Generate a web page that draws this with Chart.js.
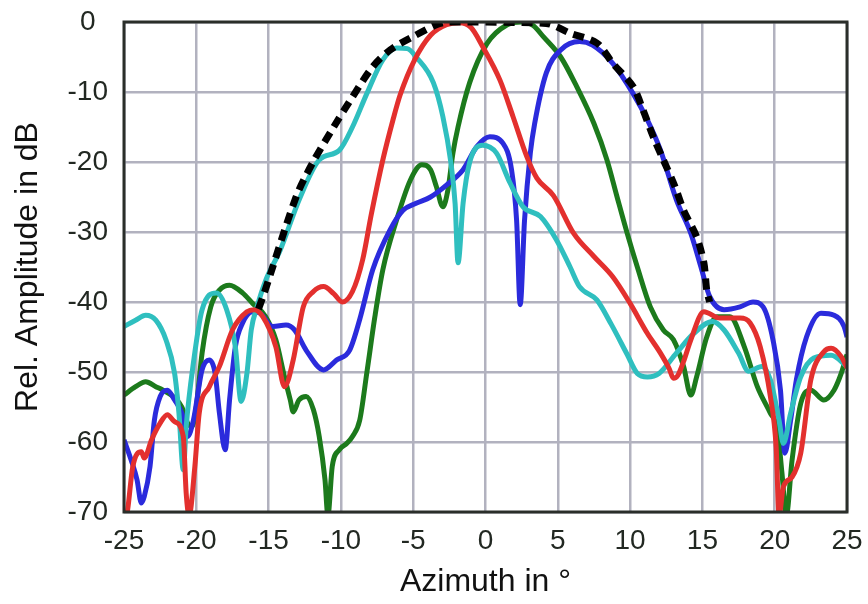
<!DOCTYPE html>
<html>
<head>
<meta charset="utf-8">
<script src="https://cdn.jsdelivr.net/npm/chart.js@4/dist/chart.umd.min.js"></script>
<style>
  html, body { margin: 0; padding: 0; background: #ffffff; }
  #wrap { width: 868px; height: 604px; }
</style>
</head>
<body>
<div id="wrap"><canvas id="c" width="868" height="604"></canvas></div>
<script>
// ---- data (azimuth in degrees, relative amplitude in dB) ----
const xTicks = [-25, -20, -15, -10, -5, 0, 5, 10, 15, 20, 25];
const yTicks = [-70, -60, -50, -40, -30, -20, -10, 0];

const envelope = [[-15.7,-41],[-15.3,-38.7],[-13.1,-25],[-11.95,-20.1],[-10.5,-15],[-9.2,-10.7],[-7.8,-6.4],[-6.6,-4.0],[-5.2,-2.3],[-3.4,-0.4],[-2.5,0],[4.2,-0.2],[5.85,-1.6],[7.7,-3.0],[8.8,-5.9],[10.2,-9.2],[10.9,-12.6],[11.6,-16.4],[12.3,-19.7],[13.1,-23.5],[13.7,-26.9],[14.6,-30.7],[15.1,-34.4],[15.3,-38.3],[15.5,-40]];

const red = [[-25,-72],[-24.75,-69.7],[-24.4,-63.6],[-23.8,-61.4],[-23.6,-62.3],[-23.1,-59.7],[-22.5,-57.3],[-22.0,-56.1],[-21.5,-57.1],[-20.9,-59.2],[-20.7,-67.3],[-20.5,-70.5],[-20.1,-63.5],[-19.8,-55.9],[-19.1,-52.1],[-18.4,-49.2],[-17.5,-44],[-16.5,-41.4],[-16.0,-41.1],[-15.4,-42.1],[-14.5,-46.4],[-13.9,-52.1],[-13.3,-48.3],[-12.6,-40.7],[-11.9,-38.5],[-11.2,-37.8],[-10.5,-38.8],[-9.9,-40],[-9.2,-38.5],[-8.5,-34],[-7.9,-27.5],[-7.1,-19.7],[-6.4,-14],[-5.9,-10.4],[-4.9,-5.4],[-3.8,-1.9],[-2.7,-0.4],[-1.8,-0.1],[-1.0,-0.8],[-0.2,-3.5],[1.0,-8.3],[1.9,-13.5],[2.85,-19.2],[3.55,-22.3],[4.7,-24.8],[6.1,-30.2],[7.5,-33.5],[8.8,-36.4],[10.0,-40.2],[11.2,-44.5],[12.1,-47.3],[12.7,-49.5],[13.0,-50.9],[13.3,-50.5],[13.7,-48.5],[14.2,-45.4],[15.1,-41.4],[16.2,-42.3],[17.6,-42.3],[18.3,-43.0],[19.0,-46.4],[19.7,-53.5],[20.1,-60.7],[20.3,-70.5],[20.6,-66.4],[21.2,-65],[21.8,-61.6],[22.5,-51.1],[23.4,-47.1],[23.9,-46.6],[24.6,-47.8],[25,-49.4]];

const blue = [[-25,-59.7],[-24.5,-62.6],[-24.1,-65.4],[-23.8,-68.7],[-23.6,-67.8],[-23.2,-63.5],[-22.9,-56.9],[-22.5,-53.5],[-22.0,-52.6],[-21.5,-54],[-21.0,-55.9],[-20.6,-59.2],[-20.2,-56.9],[-19.6,-49.7],[-19.1,-48.3],[-18.7,-50.2],[-18.4,-55.9],[-18.0,-61.1],[-17.7,-54],[-17.3,-46.4],[-16.8,-43.0],[-16.1,-41.4],[-15.6,-41.6],[-14.7,-43.5],[-13.8,-43.3],[-13.2,-44.0],[-12.4,-46.9],[-11.2,-49.7],[-10.3,-48.3],[-9.4,-46.9],[-8.7,-42.5],[-7.8,-35.4],[-6.6,-29.7],[-5.7,-26.9],[-4.8,-25.9],[-3.8,-25],[-2.7,-23.3],[-1.55,-21.1],[-0.6,-17.8],[0.3,-16.4],[1.2,-17.3],[1.8,-21.1],[2.15,-28.3],[2.4,-40.4],[2.7,-28.3],[3.1,-18.7],[3.4,-14.5],[4.2,-7.3],[5.2,-4.0],[6.5,-2.8],[7.4,-3.3],[8.8,-5.9],[10.2,-10.2],[11.2,-14],[12.1,-18.3],[13.2,-25.4],[14.2,-30.2],[14.9,-35],[15.5,-39.2],[16.5,-41.1],[17.6,-40.7],[18.5,-40],[19.2,-40.7],[19.9,-45.6],[20.4,-52.6],[20.7,-61.6],[21.1,-56.9],[21.5,-51.1],[22.2,-45],[23.2,-41.6],[24.1,-41.9],[24.8,-43.5],[25,-45]];

const green = [[-25,-53.3],[-24.2,-52.1],[-23.5,-51.4],[-22.8,-52.1],[-22.3,-52.6],[-21.6,-53.5],[-21.0,-55],[-20.6,-57.3],[-20.3,-57.8],[-20.0,-55],[-19.6,-47.3],[-19.0,-40.7],[-18.4,-38.3],[-17.7,-37.6],[-16.8,-38.7],[-16.1,-40.2],[-15.2,-42.1],[-14.5,-45.4],[-13.9,-50.7],[-13.5,-54],[-13.3,-55.7],[-12.9,-54],[-12.4,-53.5],[-11.9,-55.4],[-11.5,-59.2],[-11.1,-65.4],[-10.9,-70.5],[-10.6,-63.5],[-10.1,-61.1],[-9.6,-60.2],[-9.2,-59.2],[-8.7,-56.9],[-8.2,-50],[-7.65,-42.1],[-7.1,-35.4],[-6.15,-28.3],[-5.2,-22.6],[-4.4,-20.4],[-3.8,-21.1],[-3.4,-23.5],[-2.95,-26.4],[-2.6,-24],[-2.25,-18.7],[-1.9,-15],[-1.1,-8.7],[0.1,-3.1],[1.5,-0.4],[2.5,0],[3.3,-0.5],[4.0,-2.1],[5.2,-5.0],[6.3,-9.2],[7.5,-14.5],[8.4,-19.7],[9.1,-25],[9.8,-30.2],[10.5,-35],[11.4,-40.7],[12.3,-44],[13.0,-45.4],[13.7,-49.2],[14.2,-53.3],[14.6,-50.7],[15.3,-45],[16.0,-42.1],[16.9,-42.1],[17.9,-46.4],[18.8,-52.1],[19.7,-55.9],[20.2,-58.3],[20.5,-64.4],[20.8,-70.5],[21.2,-62.6],[21.8,-54.5],[22.5,-52.6],[23.4,-54],[24.1,-52.6],[24.6,-50.2],[25,-47.5]];

const cyan = [[-25,-43.5],[-24.2,-42.6],[-23.5,-41.9],[-22.8,-42.6],[-22.1,-45.4],[-21.5,-50.2],[-21.2,-55.9],[-20.9,-64.0],[-20.7,-57.8],[-20.2,-48.7],[-19.6,-41.1],[-18.6,-38.7],[-17.9,-41.1],[-17.3,-46.4],[-16.9,-54.2],[-16.5,-50.2],[-16.2,-44],[-15.8,-40.7],[-15.2,-36.9],[-14.2,-32.6],[-12.85,-25.2],[-11.5,-19.7],[-10.1,-18.3],[-9.2,-15],[-8.2,-10.2],[-7.1,-5.4],[-6.15,-3.7],[-5.4,-3.8],[-4.8,-5],[-3.6,-8.7],[-2.95,-13.5],[-2.4,-20],[-2.1,-26],[-1.9,-34.4],[-1.55,-25.9],[-1.1,-20.1],[-0.2,-17.6],[0.75,-18.7],[1.7,-23],[2.6,-26.4],[3.8,-27.8],[4.9,-31.1],[5.85,-35],[6.5,-37.8],[7.7,-39.7],[8.7,-43.2],[9.8,-47.5],[10.5,-50.2],[11.2,-50.7],[12.0,-50.2],[13.2,-47.3],[14.4,-44.5],[15.7,-42.8],[16.5,-44],[17.5,-47.3],[18.2,-49.9],[19.1,-49.2],[19.7,-51.1],[20.3,-56.9],[20.6,-60.2],[21.1,-55.9],[21.8,-50.7],[22.7,-48],[23.9,-47.6],[25,-49.2]];

const toPts = arr => arr.map(p => ({ x: p[0], y: p[1] }));

const frame = {
  id: 'frame',
  afterDatasetsDraw(chart) {
    const { ctx, chartArea: a } = chart;
    ctx.save();
    ctx.strokeStyle = '#2a2e2a';
    ctx.lineWidth = 3;
    ctx.strokeRect(a.left, a.top, a.right - a.left, a.bottom - a.top);
    ctx.restore();
  }
};

const FONT = "'Liberation Sans', Arial, sans-serif";
const line = (data, color, width, extra) => Object.assign({
  data: toPts(data), borderColor: color, borderWidth: width, pointRadius: 0,
  cubicInterpolationMode: 'monotone', fill: false
}, extra || {});

new Chart(document.getElementById('c'), {
  type: 'line',
  data: {
    datasets: [
      line(envelope, '#000000', 7, { borderDash: [11, 7], cubicInterpolationMode: 'default', tension: 0.3 }),
      line(red, '#e3302e', 5),
      line(cyan, '#2fbfbf', 5),
      line(blue, '#2b2bdc', 5),
      line(green, '#1c7a1c', 5)
    ]
  },
  options: {
    responsive: false,
    animation: false,
    layout: { padding: { top: 22, right: 21, bottom: 0, left: 0 } },
    plugins: { legend: { display: false }, tooltip: { enabled: false } },
    scales: {
      x: {
        type: 'linear', min: -25, max: 25,
        afterBuildTicks: s => { s.ticks = xTicks.map(v => ({ value: v })); },
        afterFit: s => { s.height = 92; s.paddingLeft = 0; s.paddingRight = 0; },
        border: { display: false },
        grid: { color: '#b2b2bf', lineWidth: 2.5, drawTicks: false, borderDash: [2, 2] },
        ticks: { color: '#222822', font: { family: FONT, size: 28 }, padding: 12, maxRotation: 0 },
        title: { display: true, text: 'Azimuth in °', color: '#111', font: { family: FONT, size: 32 }, padding: { top: 0, bottom: 3 } }
      },
      y: {
        type: 'linear', min: -70, max: 0,
        afterBuildTicks: s => { s.ticks = yTicks.map(v => ({ value: v })); },
        afterFit: s => { s.width = 124; s.paddingTop = 0; s.paddingBottom = 0; },
        border: { display: false },
        grid: { color: '#b2b2bf', lineWidth: 2.5, drawTicks: false, borderDash: [2, 2] },
        ticks: { color: '#222822', font: { family: FONT, size: 28 }, padding: 16, crossAlign: 'center' },
        title: { display: true, text: 'Rel. Amplitude in dB', color: '#111', font: { family: FONT, size: 32 }, padding: { top: 9, bottom: 0 } }
      }
    }
  },
  plugins: [frame]
});
</script>
</body>
</html>
